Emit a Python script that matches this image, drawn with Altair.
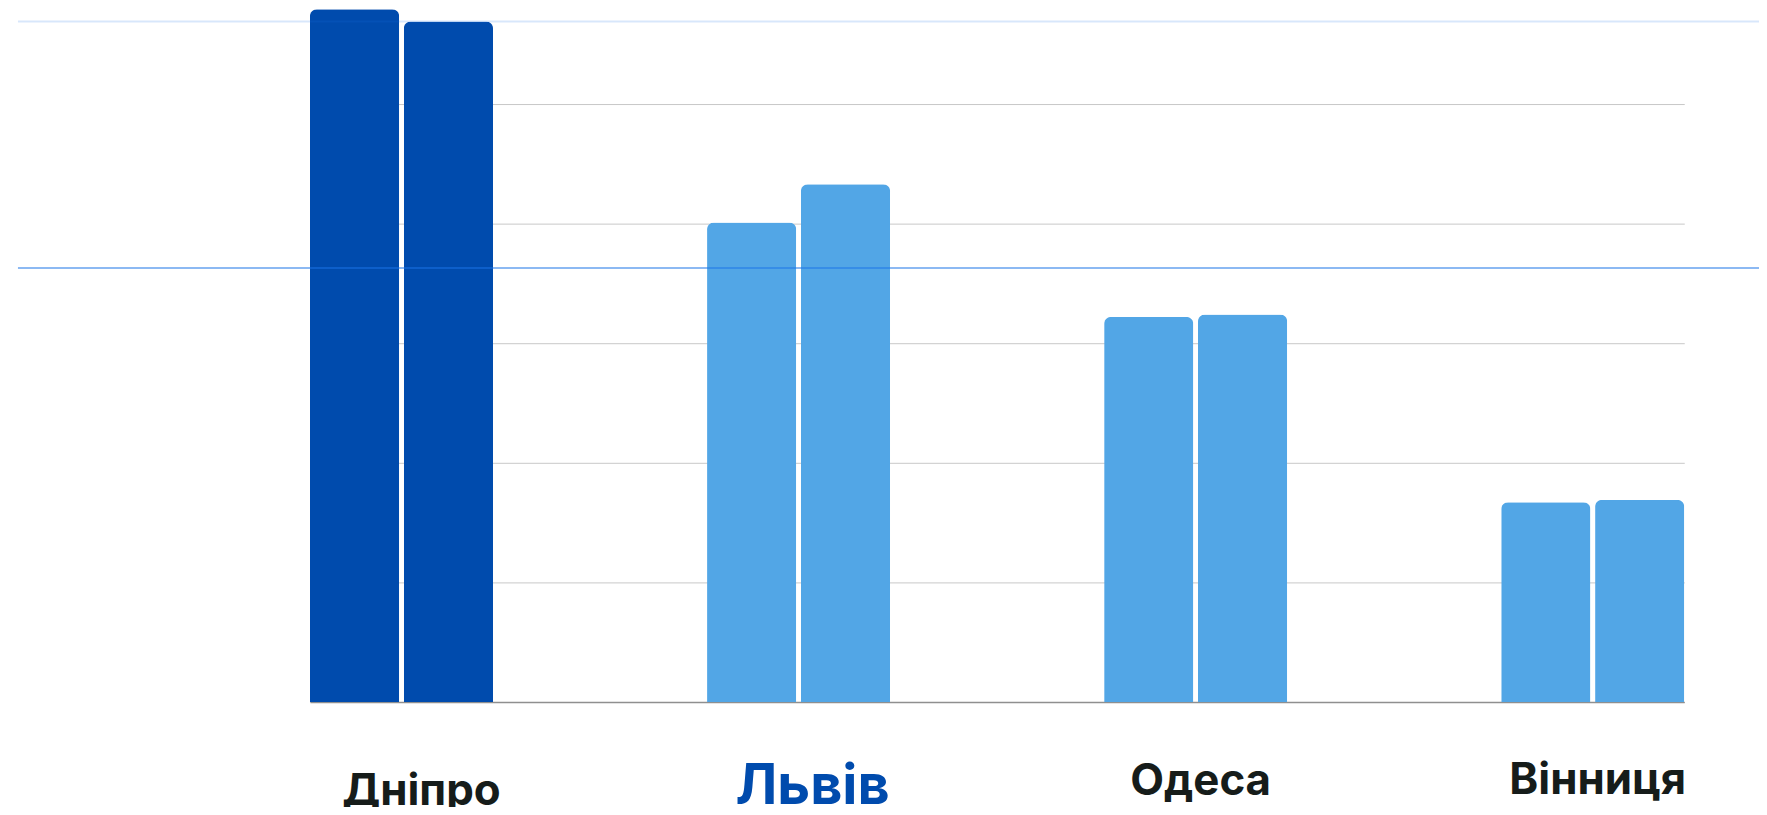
import altair as alt
import pandas as pd

cities = ["Дніпро", "Львів", "Одеса", "Вінниця"]
series = ["Період 1", "Період 2"]
values_1 = [62.0, 40.1, 32.2, 16.7]
values_2 = [56.9, 43.3, 32.4, 16.9]
ref_top = [56.9]
ref_mid = [36.3]
grid_values = [0, 10, 20, 30, 40, 50]
y_max = 57.92

rows = []
for c, v1, v2 in zip(cities, values_1, values_2):
    rows.append({"city": c, "series": series[0], "value": v1})
    rows.append({"city": c, "series": series[1], "value": v2})
df = pd.DataFrame(rows)

DARK = "#004BAD"
LIGHT = "#52A6E6"
TEXT = "#161C1A"

W = 1379
H = 695

x_axis = alt.Axis(
    title=None,
    labelAngle=0,
    ticks=False,
    tickSize=0,
    grid=False,
    domainColor="#8f8f8f",
    domainWidth=1.5,
    labelFont="Inter",
    labelFontWeight=700,
    labelAlign="center",
    labelBaseline="alphabetic",
    labelFontSize={"condition": {"test": "datum.value === 'Львів'", "value": 56}, "value": 44},
    labelColor={"condition": {"test": "datum.value === 'Львів'", "value": DARK}, "value": TEXT},
    labelOffset={"condition": [
        {"test": "datum.value === 'Дніпро'", "value": 20},
        {"test": "datum.value === 'Львів'", "value": 14},
    ], "value": 5},
    labelPadding={"condition": [
        {"test": "datum.value === 'Дніпро'", "value": 103},
        {"test": "datum.value === 'Львів'", "value": 102},
        {"test": "datum.value === 'Одеса'", "value": 93},
    ], "value": 92},
)

y_axis = alt.Axis(title=None, labels=False, ticks=False, domain=False,
                  grid=True, values=grid_values, gridColor="#c8c8c8", gridWidth=1)
y_scale = alt.Scale(domain=[0, y_max], nice=False, zero=True, clamp=True)

bars = alt.Chart(df).mark_bar(
    cornerRadiusTopLeft=alt.ExprRef(f"datum.value > {y_max} ? 0 : 7"),
    cornerRadiusTopRight=alt.ExprRef(f"datum.value > {y_max} ? 0 : 7"),
).encode(
    x=alt.X("city:N", sort=cities,
            scale=alt.Scale(paddingInner=0.539, paddingOuter=0), axis=x_axis),
    xOffset=alt.XOffset("series:N", sort=series, scale=alt.Scale(paddingInner=0.05)),
    y=alt.Y("value:Q", scale=y_scale, axis=y_axis),
    color=alt.Color("city:N", scale=alt.Scale(domain=cities, range=[DARK, LIGHT, LIGHT, LIGHT]),
                    legend=None),
)

rule_top = alt.Chart(pd.DataFrame({"value": ref_top})).mark_rule(
    color="#1a73e8", strokeWidth=2, opacity=0.17
).encode(
    y=alt.Y("value:Q", axis=y_axis),
    x=alt.value(-293),
    x2=alt.value(W + 80),
)

rule_mid = alt.Chart(pd.DataFrame({"value": ref_mid})).mark_rule(
    color="#1a73e8", strokeWidth=2, opacity=0.5
).encode(
    y=alt.Y("value:Q", axis=y_axis),
    x=alt.value(-293),
    x2=alt.value(W + 80),
)

chart = alt.layer(bars, rule_top, rule_mid).properties(
    width=W, height=H,
    autosize=alt.AutoSizeParams(type="none"),
    padding={"left": 303, "top": 0, "right": 75, "bottom": 104},
    background="white",
).configure_view(stroke=None)

chart.save("out.html", embed_options={"renderer": "svg", "actions": False})
